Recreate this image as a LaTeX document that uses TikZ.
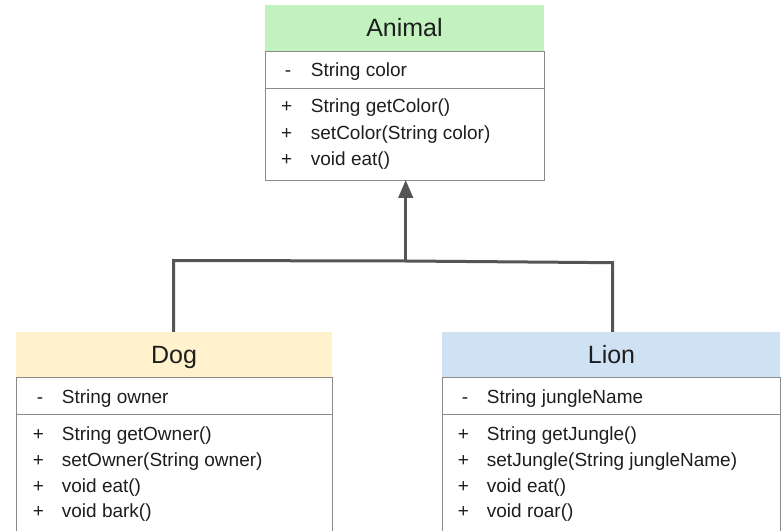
\documentclass[tikz,border=0pt]{standalone}
\usepackage{fontspec}
\setmainfont{Liberation Sans}
\usetikzlibrary{arrows.meta}
\definecolor{hgreen}{HTML}{C2F2BE}
\definecolor{hyellow}{HTML}{FFF2CC}
\definecolor{hblue}{HTML}{CFE2F3}
\definecolor{bordergray}{HTML}{8A8A8A}
\definecolor{linegray}{HTML}{555555}
\definecolor{txt}{HTML}{1E1E1E}
\begin{document}
\begin{tikzpicture}[x=1pt,y=1pt,
  hdr/.style={inner sep=0, outer sep=0, anchor=north west, draw=none},
  part/.style={draw=bordergray, line width=0.9pt, inner sep=0, outer sep=0, anchor=north west},
  title/.style={anchor=base, inner sep=0, font=\fontsize{25}{30}\selectfont, text=txt},
  item/.style={anchor=base west, inner sep=0, font=\fontsize{19}{22}\selectfont, text=txt},
  sym/.style={anchor=base, inner sep=0, font=\fontsize{19}{22}\selectfont, text=txt},
  conn/.style={draw=linegray, line width=3pt}
]
\useasboundingbox (0,0) rectangle (783,530);
\clip (0,0) rectangle (783,530);
\fill[white] (0,0) rectangle (783,530);

% ---- Animal ----
\node[hdr, fill=hgreen, minimum width=279, minimum height=46] (animalH) at (265,525) {};
\node[part, minimum width=279, minimum height=37] (animalA) at (265,479) {};
\node[part, minimum width=279, minimum height=92] (animalM) at (265,442) {};
\node[title] (animalT) at (404.5,493.3) {Animal};
\node[sym] (aS1) at (288,453.5) {-};
\node[item] (aA1) at (310.7,453.5) {String color};
\node[sym] (aS2) at (286.7,417.3) {+};
\node[item] (aM1) at (310.7,417.3) {String getColor()};
\node[sym] (aS3) at (286.7,390.7) {+};
\node[item] (aM2) at (310.7,390.7) {setColor(String color)};
\node[sym] (aS4) at (286.7,364.2) {+};
\node[item] (aM3) at (310.7,364.2) {void eat()};

% ---- Dog ----
\node[hdr, fill=hyellow, minimum width=316, minimum height=45] (dogH) at (16,198) {};
\node[part, minimum width=316, minimum height=37] (dogA) at (16,153) {};
\node[part, minimum width=316, minimum height=130] (dogM) at (16,116) {};
\node[title] (dogT) at (174,166.7) {Dog};
\node[sym] (dS1) at (40,127) {-};
\node[item] (dA1) at (61.7,127) {String owner};
\node[sym] (dS2) at (38.3,89.3) {+};
\node[item] (dM1) at (61.7,89.3) {String getOwner()};
\node[sym] (dS3) at (38.3,63.3) {+};
\node[item] (dM2) at (61.7,63.3) {setOwner(String owner)};
\node[sym] (dS4) at (38.3,37.7) {+};
\node[item] (dM3) at (61.7,37.7) {void eat()};
\node[sym] (dS5) at (38.3,12.7) {+};
\node[item] (dM4) at (61.7,12.7) {void bark()};

% ---- Lion ----
\node[hdr, fill=hblue, minimum width=338, minimum height=45] (lionH) at (442,198) {};
\node[part, minimum width=338, minimum height=37] (lionA) at (442,153) {};
\node[part, minimum width=338, minimum height=130] (lionM) at (442,116) {};
\node[title] (lionT) at (611.5,166.7) {Lion};
\node[sym] (lS1) at (465,127) {-};
\node[item] (lA1) at (486.7,127) {String jungleName};
\node[sym] (lS2) at (463.3,89.3) {+};
\node[item] (lM1) at (486.7,89.3) {String getJungle()};
\node[sym] (lS3) at (463.3,63.3) {+};
\node[item] (lM2) at (486.7,63.3) {setJungle(String jungleName)};
\node[sym] (lS4) at (463.3,37.7) {+};
\node[item] (lM3) at (486.7,37.7) {void eat()};
\node[sym] (lS5) at (463.3,12.7) {+};
\node[item] (lM4) at (486.7,12.7) {void roar()};

% ---- connectors ----
\coordinate (j) at (405.7,269);
\coordinate (jl) at (173.5,269.5);
\coordinate (jr) at (612.7,267.3);
\draw[conn] (jl |- dogH.north) -- (jl) -- (j) -- (jr) -- (jr |- lionH.north);
\draw[conn, -{Triangle[length=18pt,width=14.5pt]}] (j) -- (j |- animalM.south);
\end{tikzpicture}
\end{document}
